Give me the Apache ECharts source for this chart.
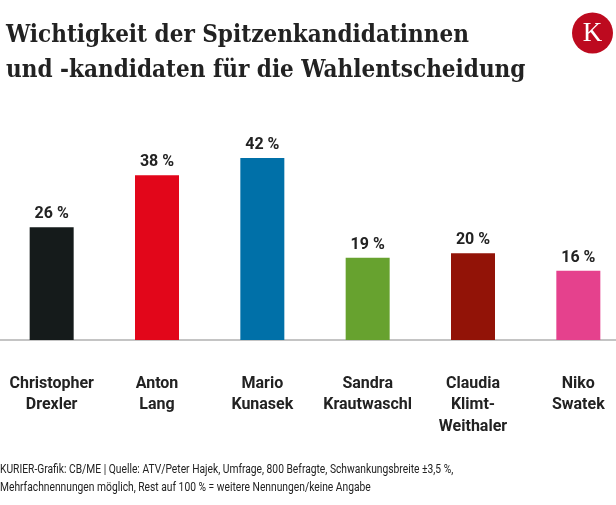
<!DOCTYPE html>
<html><head><meta charset="utf-8">
<script src="https://cdn.jsdelivr.net/npm/echarts@6/dist/echarts.min.js"></script>
<style>html,body{margin:0;padding:0;background:#fff;overflow:hidden}#c{width:632px;height:505px;margin-left:-1px}</style>
</head><body><div id="c"></div>
<script>
const categories = ["Christopher\nDrexler", "Anton\nLang", "Mario\nKunasek", "Sandra\nKrautwaschl", "Claudia\nKlimt-\nWeithaler", "Niko\nSwatek"];
const values = [26, 38, 42, 19, 20, 16];
const barColors = ["#151b1b", "#e2061a", "#0070a8", "#67a22f", "#921307", "#e5418d"];
const titleText = "Wichtigkeit der Spitzenkandidatinnen\nund -kandidaten für die Wahlentscheidung";
const footerText = "KURIER-Grafik: CB/ME | Quelle: ATV/Peter Hajek, Umfrage, 800 Befragte, Schwankungsbreite ±3,5 %,\nMehrfachnennungen möglich, Rest auf 100 % = weitere Nennungen/keine Angabe";

const chart = echarts.init(document.getElementById('c'), null, {renderer: 'canvas'});
chart.setOption({
  animation: false,
  backgroundColor: '#fff',
  title: [{
    text: titleText, left: 2, top: 13,
    textStyle: {fontFamily: '"DejaVu Serif Condensed", "DejaVu Serif", serif', fontWeight: 'bold', fontSize: 24, lineHeight: 35, color: '#222'}
  }],
  graphic: [{
    type: 'circle', shape: {cx: 593.5, cy: 33, r: 20.5}, style: {fill: '#bd0a1f'}
  }, {
    type: 'text', x: 593.5, y: 34, style: {text: 'K', fill: '#fff', font: '27px "Liberation Serif", serif', align: 'center', verticalAlign: 'middle'}
  }, {
    type: 'text', x: 1, y: 461, scaleX: 0.79, scaleY: 1.05,
    style: {text: footerText, fill: '#222', font: '13px Roboto, sans-serif', lineHeight: 17, align: 'left', verticalAlign: 'top'}
  }],
  grid: {left: 0, right: 0, top: 123.3, height: 216.7, containLabel: false},
  xAxis: {
    type: 'category', data: categories,
    axisLine: {lineStyle: {color: '#c4c4c4', width: 2}},
    axisTick: {show: false},
    axisLabel: {interval: 0, margin: 33, fontFamily: 'Roboto, sans-serif', fontWeight: 'bold', fontSize: 16, lineHeight: 21.5, color: '#222'}
  },
  yAxis: {type: 'value', min: 0, max: 50, show: false, splitLine: {show: false}},
  series: [{
    type: 'bar', barWidth: 44,
    data: values.map((v, i) => ({value: v, itemStyle: {color: barColors[i]}})),
    label: {show: true, position: 'top', distance: 5, formatter: p => p.value + ' %', fontFamily: 'Roboto, sans-serif', fontWeight: 'bold', fontSize: 16, color: '#222'}
  }]
});
</script></body></html>
